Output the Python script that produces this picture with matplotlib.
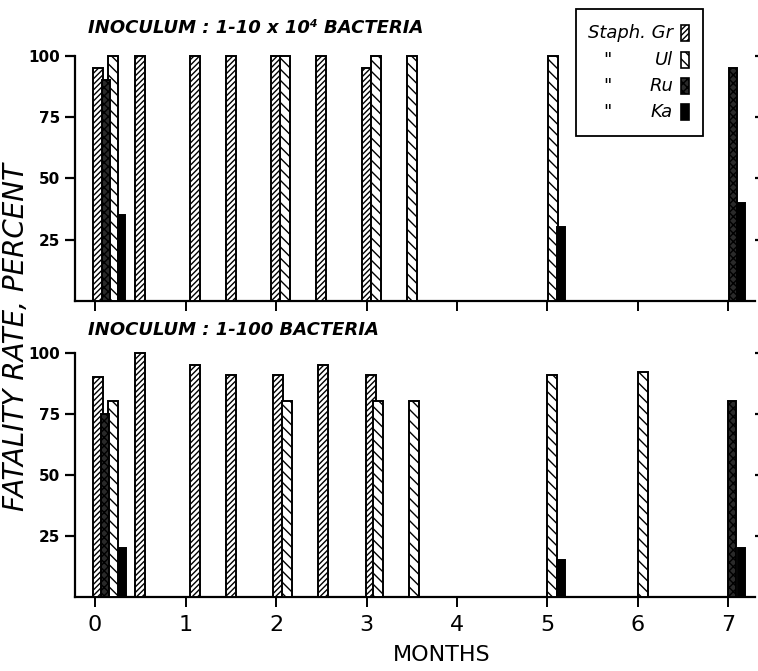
#!/usr/bin/env python3

import matplotlib
matplotlib.use('Agg')
import matplotlib.pyplot as plt
from matplotlib.patches import Rectangle

plt.rcParams['font.family'] = 'DejaVu Sans'
plt.rcParams['hatch.linewidth'] = 1.0

months = [0, 1, 2, 3, 4, 5, 6, 7]
yticks = [25, 50, 75, 100]

# inoculum 1-10 x 10^4 bacteria (month, fatality %)
top_gr_x = [0.03, 0.5, 1.1, 1.5, 2.0, 2.5, 3.0]
top_gr_y = [95, 100, 100, 100, 100, 100, 95]
top_ul_x = [0.2, 2.1, 3.1, 3.5, 5.06]
top_ul_y = [100, 100, 100, 100, 100]
top_ru_x = [0.12, 7.05]
top_ru_y = [90, 95]
top_ka_x = [0.29, 5.15, 7.14]
top_ka_y = [35, 30, 40]

# inoculum 1-100 bacteria
bot_gr_x = [0.03, 0.5, 1.1, 1.5, 2.02, 2.52, 3.05]
bot_gr_y = [90, 100, 95, 91, 91, 95, 91]
bot_ul_x = [0.2, 2.12, 3.13, 3.52, 5.05, 6.06]
bot_ul_y = [80, 80, 80, 80, 91, 92]
bot_ru_x = [0.11, 7.04]
bot_ru_y = [75, 80]
bot_ka_x = [0.3, 5.15, 7.14]
bot_ka_y = [20, 15, 20]

strains = ['Gr', 'Ul', 'Ru', 'Ka']
styles = {
    'Gr': dict(width=0.11, facecolor='white', hatch='//////'),
    'Ul': dict(width=0.11, facecolor='white', hatch='\\\\\\'),
    'Ru': dict(width=0.09, facecolor='#2a2a2a', hatch='xxxx'),
    'Ka': dict(width=0.08, facecolor='black', hatch=None),
}


def draw_panel(ax, series, title, title_y):
    for name in strains:
        xs, ys = series[name]
        ax.bar(xs, ys, edgecolor='black', linewidth=1.4, clip_on=False,
               zorder=3, **styles[name])
    ax.set_xlim(-0.221, 7.293)
    ax.set_ylim(0, 100)
    ax.spines['top'].set_visible(False)
    ax.spines['right'].set_visible(False)
    ax.spines['left'].set_bounds(0, 100)
    ax.spines['left'].set_linewidth(1.6)
    ax.spines['bottom'].set_linewidth(1.6)
    ax.set_yticks(yticks)
    ax.set_xticks(months)
    ax.tick_params(axis='y', direction='out', length=7, width=1.6,
                   labelsize=11, pad=4, right=True)
    ax.tick_params(axis='x', direction='out', length=7, width=1.4,
                   labelsize=16, pad=6)
    for lab in ax.get_yticklabels():
        lab.set_fontweight('bold')
    ax.text(0.019, title_y, title, transform=ax.transAxes, fontsize=13,
            fontweight='bold', style='italic', va='center', ha='left')


fig = plt.figure(figsize=(7.58, 6.71), dpi=100)
ax1 = fig.add_axes([0.099, 0.5514, 0.897, 0.3656])
ax2 = fig.add_axes([0.099, 0.1107, 0.897, 0.3637])

draw_panel(ax1, {'Gr': (top_gr_x, top_gr_y), 'Ul': (top_ul_x, top_ul_y),
                 'Ru': (top_ru_x, top_ru_y), 'Ka': (top_ka_x, top_ka_y)},
           'INOCULUM : 1-10 x 10\u2074 BACTERIA', 1.113)
draw_panel(ax2, {'Gr': (bot_gr_x, bot_gr_y), 'Ul': (bot_ul_x, bot_ul_y),
                 'Ru': (bot_ru_x, bot_ru_y), 'Ka': (bot_ka_x, bot_ka_y)},
           'INOCULUM : 1-100 BACTERIA', 1.093)
ax1.tick_params(axis='x', labelbottom=False)
# tiny ticks on the right edge, no spine
for ax in (ax1, ax2):
    ax.tick_params(axis='y', which='both', right=True, labelright=False)
    for t in ax.yaxis.get_major_ticks():
        t.tick2line.set_markersize(3)

fig.text(0.021, 0.498, 'FATALITY RATE, PERCENT', rotation=90, fontsize=20,
         style='italic', ha='center', va='center')
fig.text(0.583, 0.024, 'MONTHS', fontsize=16, ha='center', va='center')

# legend box drawn by hand
W, H = 758.0, 671.0
fig.add_artist(Rectangle((576 / W, 1 - 136 / H), 127 / W, 127 / H,
                         transform=fig.transFigure, facecolor='white',
                         edgecolor='black', linewidth=1.3, zorder=5))
leg_labels = ['Staph. Gr', 'Ul', 'Ru', 'Ka']
leg_y = [33, 60, 86, 112]
for name, lab, yy in zip(strains, leg_labels, leg_y):
    fig.text(673 / W, 1 - yy / H, lab, fontsize=13, style='italic',
             ha='right', va='center', zorder=6)
    if name != 'Gr':
        fig.text(607 / W, 1 - yy / H, '"', fontsize=13, style='italic',
                 ha='center', va='center', zorder=6)
    st = styles[name]
    fig.add_artist(Rectangle((681 / W, 1 - (yy + 8) / H), 8 / W, 16 / H,
                             transform=fig.transFigure,
                             facecolor=st['facecolor'], hatch=st['hatch'],
                             edgecolor='black', linewidth=1.2, zorder=6))

fig.savefig('out.png', dpi=100)
